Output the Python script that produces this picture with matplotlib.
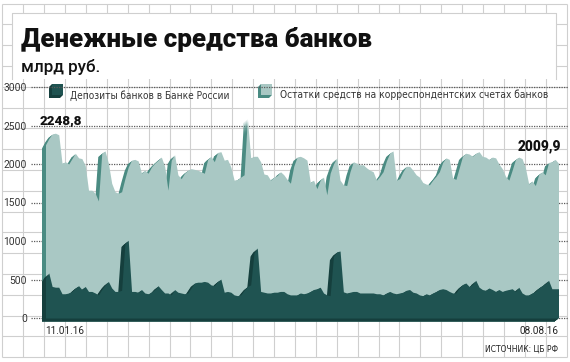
import numpy as np
import matplotlib
matplotlib.use('Agg')
import matplotlib.pyplot as plt
import matplotlib.font_manager as fm
from matplotlib.transforms import offset_copy
from matplotlib.patches import Rectangle, Polygon

# --- data (млрд руб., business days 11.01.16 .. 08.08.16) ---
corr_accounts = [
    2250, 2330, 2390, 2400, 2380, 2010, 2030, 2000, 2070, 2140, 2080, 2070, 1980,
    1660, 1660, 1620, 1520, 2140, 2170, 2010, 1750, 1640, 1620, 1640, 1810, 1960,
    2050, 2060, 2040, 1880, 1920, 1880, 1960, 2010, 2050, 2090, 1970, 1660, 2050,
    2120, 1860, 1810, 1880, 1920, 1940, 1930, 1920, 1900, 1880, 2060, 2100, 2030,
    2150, 2160, 2050, 2060, 1960, 1790, 1800, 1830, 1860, 2590, 2080, 2100, 2100,
    2030, 1870, 1860, 1790, 1830, 1850, 1900, 1860, 1800, 1750, 1970, 2090, 2100,
    2080, 2050, 1760, 1790, 1680, 1790, 1830, 1600, 1880, 2000, 2080, 1790, 1730,
    1720, 1900, 2030, 2010, 1990, 1990, 1950, 1920, 1900, 1790, 1840, 1900, 2040,
    2140, 2170, 1790, 1810, 1900, 1970, 1970, 1920, 1860, 1830, 1760, 1740, 1730,
    1790, 1840, 1900, 2020, 2080, 2060, 1820, 1800, 1950, 2100, 2140, 2130, 2100,
    2140, 2160, 2100, 2090, 2060, 2090, 2080, 2000, 1940, 1840, 1790, 1920, 2060,
    2090, 2070, 1950, 1740, 1780, 1720, 1860, 1900, 1860, 2020, 2030, 2060, 2010,
]
deposits = [
    520, 585, 410, 400, 400, 315, 315, 325, 345, 390, 420, 370, 410,
    345, 345, 325, 300, 370, 430, 475, 390, 345, 345, 360, 970, 1010,
    345, 345, 335, 370, 325, 315, 335, 370, 420, 370, 325, 325, 300,
    370, 335, 325, 315, 325, 390, 455, 465, 465, 475, 465, 430, 420,
    475, 505, 335, 345, 335, 300, 290, 300, 360, 410, 430, 845, 910,
    345, 335, 325, 325, 335, 335, 345, 345, 315, 300, 300, 300, 325,
    315, 325, 345, 370, 380, 400, 325, 300, 290, 800, 860, 870, 340,
    325, 335, 345, 345, 325, 325, 325, 325, 325, 315, 315, 300, 325,
    345, 325, 315, 325, 335, 360, 370, 335, 325, 300, 290, 315, 300,
    325, 345, 370, 380, 370, 345, 325, 325, 390, 435, 455, 410, 435,
    490, 400, 370, 360, 390, 370, 345, 370, 345, 360, 370, 380, 345,
    400, 325, 300, 300, 325, 345, 390, 420, 445, 490, 380, 380, 380,
]
y_ticks = [0, 500, 1000, 1500, 2000, 2500, 3000]
date_labels = ['11.01.16', '08.08.16']
first_label, last_label = '2248,8', '2009,9'

title = 'Денежные средства банков'
subtitle = 'млрд руб.'
legend_dep = 'Депозиты банков в Банке России'
legend_corr = 'Остатки средств на корреспондентских счетах банков'
source = 'ИСТОЧНИК: ЦБ РФ'

LIGHT, LIGHT_SIDE = '#a9c8c4', '#4a8b82'
DARK, DARK_SIDE = '#1f5351', '#153f3d'
GRID = '#cfcfcf'

plt.rcParams['font.family'] = ['Roboto', 'DejaVu Sans']

# a narrow face if one is installed, plain Roboto otherwise
narrow = [f for f in fm.fontManager.ttflist
          if (f.stretch in ('condensed', 'semi-condensed') or 'Narrow' in f.name
              or 'Condensed' in f.name)
          and f.style == 'normal' and f.weight in (400, 'normal', 'regular')]
if narrow:
    NARROW = fm.FontProperties(fname=narrow[0].fname)
else:
    NARROW = fm.FontProperties(family='Roboto')

W, H = 570, 362
fig = plt.figure(figsize=(W / 100, H / 100), dpi=100)


def fx(px):
    return px / W


def fy(py):
    return 1 - py / H


def fit_width(t, target):
    r = fig.canvas.get_renderer()
    w = t.get_window_extent(r).width
    t.set_fontsize(t.get_fontsize() * target / w)


# background "graph paper"
bg = fig.add_axes([0, 0, 1, 1])
bg.set_xlim(0, W)
bg.set_ylim(H, 0)
bg.axis('off')
gx = 2.3 + 20.9 * np.arange(28)
gy = 3.5 + 20.8 * np.arange(18)
bg.vlines(gx, gy[0], gy[-1], color=GRID, lw=0.8)
bg.hlines(gy, gx[0], gx[-1], color=GRID, lw=0.8)
bg.add_patch(Rectangle((12, 13), 544, 66, facecolor='white', edgecolor='none', zorder=3))
bg.plot([12, 12, 556, 556], [79, 13, 13, 79], color=GRID, lw=0.8, zorder=4)


# legend cubes
def cube(x, y, s, d, front, side):
    hull = [(x, y), (x + s, y), (x + s, y + s), (x + s - d, y + s + d),
            (x - d, y + s + d), (x - d, y + d)]
    bg.add_patch(Polygon(hull, closed=True, facecolor=side, edgecolor='none', zorder=5))
    bg.add_patch(Rectangle((x, y), s, s, facecolor=front, edgecolor='none', zorder=6))


cube(52, 84, 11, 3, DARK, DARK_SIDE)
cube(261, 84, 11, 3, LIGHT, LIGHT_SIDE)

# main chart
V0, PXV = 318, 231 / 3000
top_px, bot_px = V0 - 3050 * PXV, V0 + 100 * PXV
ax = fig.add_axes([fx(31), fy(bot_px), fx(568) - fx(31), (bot_px - top_px) / H])
ax.set_zorder(1)
ax.patch.set_visible(False)
for s in ax.spines.values():
    s.set_visible(False)

n = len(corr_accounts)
x = np.arange(n)
step = 513 / (n - 1)
x0 = 45.5

for v in y_ticks:
    ax.axhline(v, color='#5a5a5a', lw=0.9, ls=(0, (1, 1)), zorder=1)


def extruded(y, front, side, z):
    for t in (4, 3, 2, 1):
        tr = offset_copy(ax.transData, fig=fig, x=-t, y=-0.8 * t, units='dots')
        ax.fill_between(x, 0, y, transform=tr, color=side, lw=0, zorder=z)
    ax.fill_between(x, 0, y, color=front, lw=0, zorder=z + 0.5)


extruded(corr_accounts, LIGHT, LIGHT_SIDE, 2)
extruded(deposits, DARK, DARK_SIDE, 3)

ax.set_xlim((31 - x0) / step, (568 - x0) / step)
ax.set_ylim(-100, 3050)
ax.set_yticks(y_ticks)
ax.tick_params(axis='y', length=0, pad=3, labelsize=7.4, labelcolor='#333333')
ax.set_xticks([0, n - 1], labels=date_labels)
ax.tick_params(axis='x', length=0, pad=0.5, labelsize=7.2, labelcolor='#222222')
xl = ax.get_xticklabels()
xl[0].set_ha('left')
xl[1].set_ha('right')

# texts
t = fig.text(fx(21), fy(47.5), title, fontsize=20, fontweight='heavy', va='baseline', color='#111111')
fit_width(t, 352)
t = fig.text(fx(21), fy(72), subtitle, fontsize=11, fontweight='medium', va='baseline', color='#111111')
fit_width(t, 79)
t = fig.text(fx(70), fy(98.5), legend_dep, fontproperties=NARROW, fontsize=8, va='baseline', color='#333333')
fit_width(t, 158)
t = fig.text(fx(280), fy(98.5), legend_corr, fontproperties=NARROW, fontsize=8, va='baseline', color='#333333')
fit_width(t, 267)
t = fig.text(fx(40), fy(124.5), first_label, fontsize=8, fontweight='heavy', va='baseline', color='#111111', zorder=5)
fit_width(t, 43)
t = fig.text(fx(561), fy(150.5), last_label, fontsize=8, fontweight='heavy', ha='right', va='baseline', color='#111111', zorder=5)
fit_width(t, 44)
t = fig.text(fx(558), fy(351.5), source, fontproperties=NARROW, fontsize=7, ha='right', va='baseline', color='#222222')
fit_width(t, 74)

fig.savefig('out.png', dpi=100)
